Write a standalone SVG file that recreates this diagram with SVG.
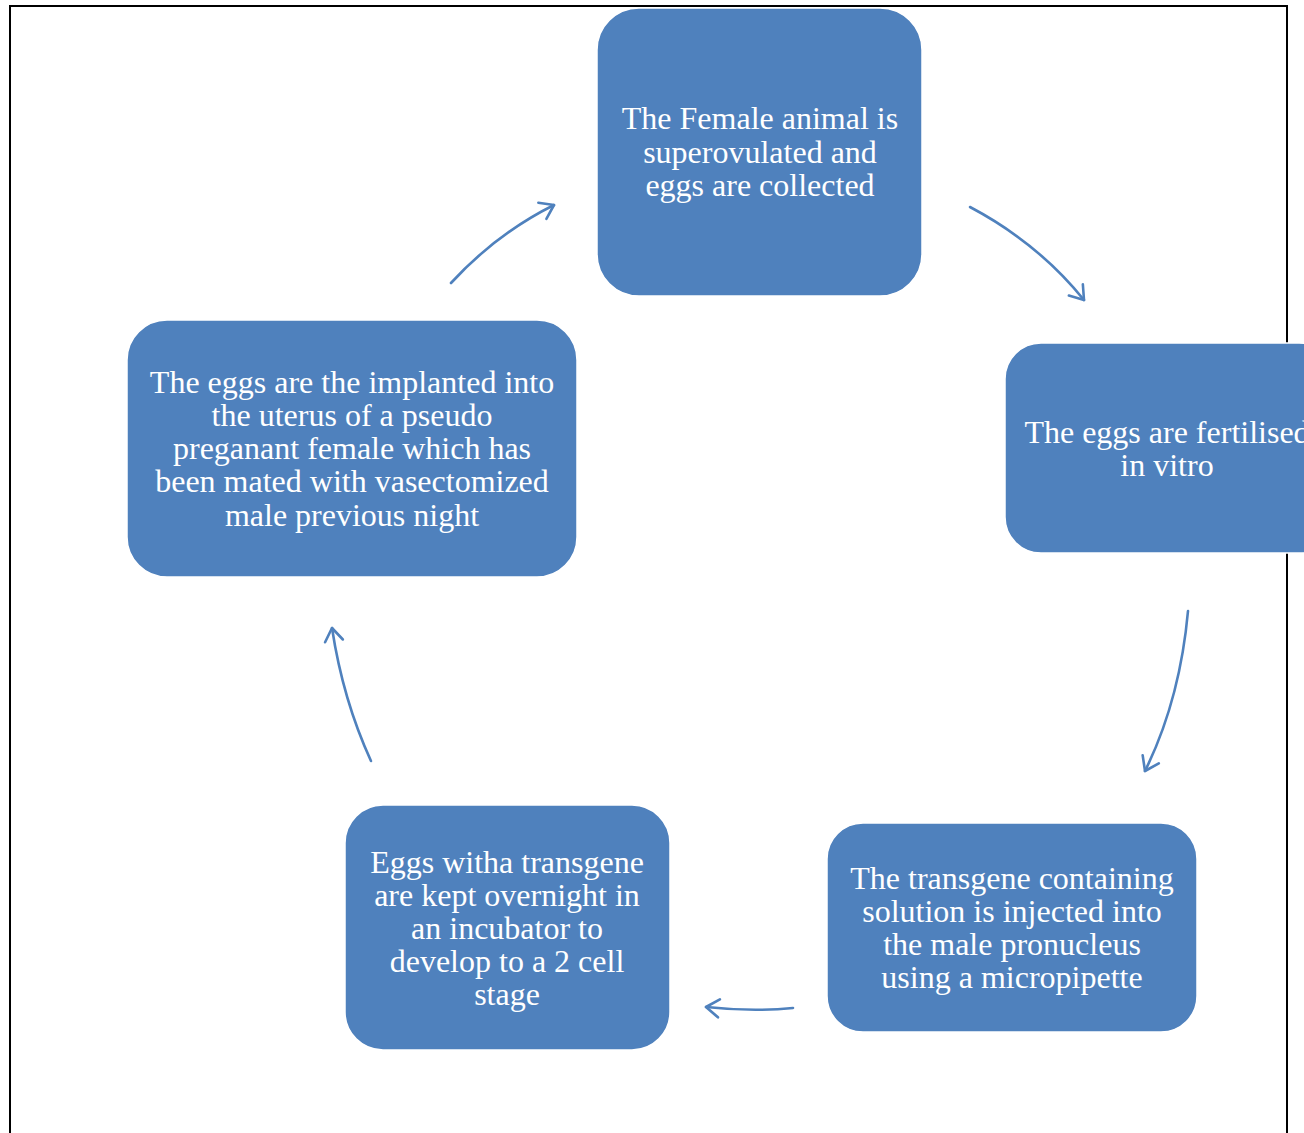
<svg xmlns="http://www.w3.org/2000/svg" width="1304" height="1133" viewBox="0 0 1304 1133">
<style>
.node rect{fill:#4F81BD;stroke:#ffffff;stroke-width:1.5}
.node text{fill:#ffffff;font-family:"Liberation Serif","Times New Roman",serif;font-size:32px;text-anchor:middle;dominant-baseline:central}
.conn path{fill:none;stroke:#4F81BD;stroke-width:2.6;stroke-linecap:round}
</style>
<defs>
<marker id="ah" viewBox="0 0 22 22" refX="18" refY="11" markerWidth="22" markerHeight="22" markerUnits="userSpaceOnUse" orient="auto">
<path d="M5,2 L18,11 L5,20" fill="none" stroke="#4F81BD" stroke-width="2.6" stroke-linecap="round" stroke-linejoin="round"/>
</marker>
</defs>
<rect x="0" y="0" width="1304" height="1133" fill="#ffffff"/>
<rect x="10" y="6" width="1277" height="1140" fill="none" stroke="#000000" stroke-width="2"/>
<g class="conn">
<path d="M970,207 Q1038,243 1084,300" marker-end="url(#ah)"/>
<path d="M1188,611 Q1180,700 1145,771" marker-end="url(#ah)"/>
<path d="M793,1008 Q752,1012 706,1007" marker-end="url(#ah)"/>
<path d="M371,761 Q343,700 332,628" marker-end="url(#ah)"/>
<path d="M451,283 Q496,234 554,205" marker-end="url(#ah)"/>
</g>
<g id="node1" class="node">
<rect x="597" y="8" width="325" height="288" rx="42"/>
<text x="760" y="118">The Female animal is</text>
<text x="760" y="152">superovulated and</text>
<text x="760" y="185">eggs are collected</text>
</g>
<g id="node2" class="node">
<rect x="1005" y="343" width="330" height="210" rx="36"/>
<text x="1167" y="432">The eggs are fertilised</text>
<text x="1167" y="465">in vitro</text>
</g>
<g id="node3" class="node">
<rect x="827" y="823" width="370" height="209" rx="36"/>
<text x="1012" y="878">The transgene containing</text>
<text x="1012" y="911">solution is injected into</text>
<text x="1012" y="944">the male pronucleus</text>
<text x="1012" y="977">using a micropipette</text>
</g>
<g id="node4" class="node">
<rect x="345" y="805" width="325" height="245" rx="38"/>
<text x="507" y="862">Eggs witha transgene</text>
<text x="507" y="895">are kept overnight in</text>
<text x="507" y="928">an incubator to</text>
<text x="507" y="961">develop to a 2 cell</text>
<text x="507" y="994">stage</text>
</g>
<g id="node5" class="node">
<rect x="127" y="320" width="450" height="257" rx="40"/>
<text x="352" y="382">The eggs are the implanted into</text>
<text x="352" y="415">the uterus of a pseudo</text>
<text x="352" y="448">preganant female which has</text>
<text x="352" y="481">been mated with vasectomized</text>
<text x="352" y="515">male previous night</text>
</g>
</svg>
